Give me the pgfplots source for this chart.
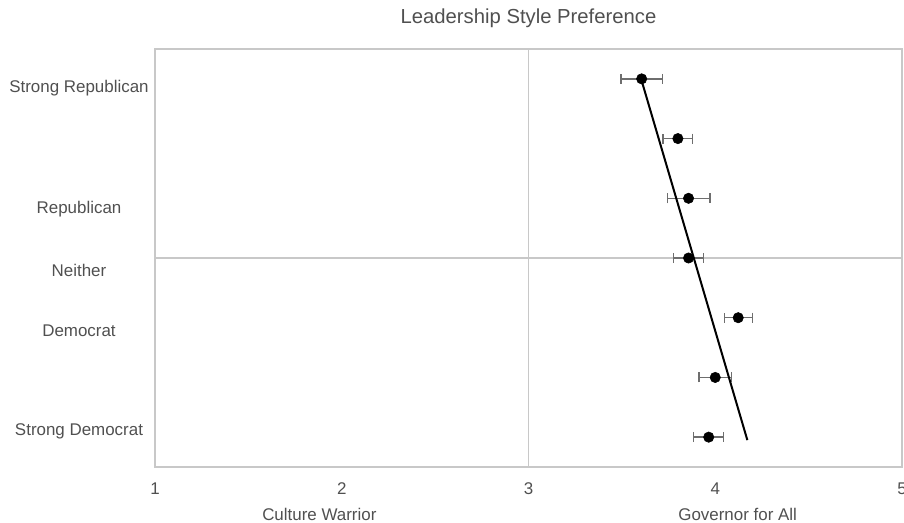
\documentclass[border=0pt]{standalone}
\usepackage{pgfplots}
\pgfplotsset{compat=1.18}
\usepackage{fontspec}
\setmainfont{Liberation Sans}
\definecolor{txt}{HTML}{505050}
\definecolor{gridc}{HTML}{C8C8C8}
\definecolor{errc}{HTML}{6E6E6E}
\pgfplotstableread{
x y e
3.606 3 0.110
3.800 2 0.079
3.857 1 0.114
3.857 0 0.080
4.123 -1 0.075
4.000 -2 0.087
3.965 -3 0.080
}\pts
\begin{document}
\begin{tikzpicture}
\begin{axis}[
 at={(0,0)}, anchor=south west,
 scale only axis, width=560.25pt, height=313.5pt,
 xmin=1, xmax=5, ymin=-3.5, ymax=3.5,
 xtick={1,2,3,4,5},
 ytick={2.85,0.82,-0.2,-1.22,-2.91},
 yticklabels={Strong Republican,Republican,Neither,Democrat,Strong Democrat},
 major tick length=0pt,
 axis line style={gridc, line width=0.9pt},
 tick label style={font=\fontsize{12.7}{14}\selectfont, text=txt},
 /pgf/number format/assume math mode=true,
 xticklabel style={anchor=center, yshift=-16pt},
 yticklabel style={anchor=center, xshift=-57pt},
 clip=false,
]
\draw[gridc, line width=0.9pt] (axis cs:3,-3.5) -- (axis cs:3,3.5);
\draw[gridc, line width=0.9pt] (axis cs:1,0) -- (axis cs:5,0);
\addplot[only marks, mark=*, mark size=3.9pt, black,
  error bars/.cd, x dir=both, x explicit,
  error bar style={errc, line width=1pt},
  error mark options={rotate=90, errc, mark size=3.75pt, line width=1pt}]
  table[x=x, y=y, x error=e]{\pts};
\addplot[black, line width=1.5pt] coordinates {(3.603,3) (4.172,-3.05)};
\node[font=\fontsize{15.2}{18}\selectfont, text=txt] at (rel axis cs:0.5,1) [yshift=23.25pt] {Leadership Style Preference};
\node[font=\fontsize{12.7}{14}\selectfont, text=txt] at (axis cs:1.88,-3.5) [yshift=-35.25pt] {Culture Warrior};
\node[font=\fontsize{12.7}{14}\selectfont, text=txt] at (axis cs:4.12,-3.5) [yshift=-35.25pt] {Governor for All};
\end{axis}
\pgfresetboundingbox
\path[use as bounding box] (-116.25pt,-41.25pt) rectangle (561.75pt,350.25pt);
\end{tikzpicture}
\end{document}
